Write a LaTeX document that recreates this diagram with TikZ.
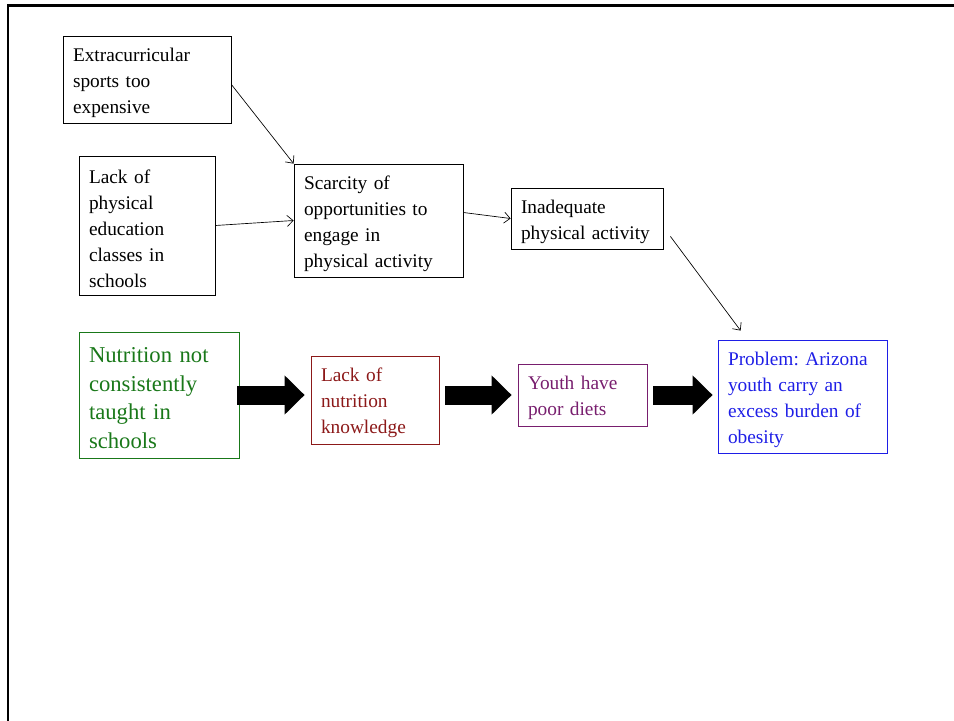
\documentclass[tikz,border=0pt]{standalone}
\usepackage{fontspec}
\setmainfont{Liberation Serif}
\usepackage{tikz}
\usetikzlibrary{calc}
\usetikzlibrary{arrows.meta}
\newlength\px
\setlength\px{0.75pt}
\frenchspacing
\definecolor{nutgreen}{RGB}{25,120,25}
\definecolor{knowred}{RGB}{140,25,25}
\definecolor{dietpurple}{RGB}{120,30,110}
\definecolor{probblue}{RGB}{30,30,230}
\tikzset{
  causebox/.style={draw, line width=0.6pt, align=left, inner xsep=10\px, inner ysep=2\px,
    font=\fontsize{14.5}{19.5}\selectfont, execute at end node={\par\vspace{-6\px}}},
  thinarrow/.style={line width=0.5pt, -{Straight Barb[length=4.5pt, width=8.25pt]}},
  blockarrow/.style={line width=19\px, -{Triangle[length=15pt, width=28.5pt]},
    shorten <=6\px, shorten >=6\px},
}

\begin{document}
\begin{tikzpicture}[x=0.75pt, y=-0.75pt]
\useasboundingbox (0,0) rectangle (954,721);
\draw[line width=2.5\px] (8,721)--(8,5.3)--(954,5.3);
% physical activity branch
\node[causebox, minimum height=87\px, text width=148\px] (sports) at (147,79.5)
  {Extracurricular\\sports too\\expensive};
\node[causebox, minimum height=139\px, text width=116\px] (physed) at (147,225.5)
  {Lack of\\physical\\education\\classes in\\schools};
\node[causebox, minimum height=113\px, text width=149\px] (scarcity) at (378.5,220.5)
  {Scarcity of\\opportunities to\\engage in\\physical activity};
\node[causebox, minimum height=61\px, text width=132\px] (inactive) at (587,218.5)
  {Inadequate\\physical activity};
% nutrition branch
\node[causebox, draw=nutgreen, text=nutgreen, font=\fontsize{17}{21.4}\selectfont,
  minimum height=126\px, text width=140\px] (nutrition) at (159,395)
  {Nutrition not\\consistently\\taught in\\schools};
\node[causebox, draw=knowred, text=knowred, minimum height=88\px, text width=108\px] (knowledge) at (375,400)
  {Lack of\\nutrition\\knowledge};
\node[causebox, draw=dietpurple, text=dietpurple, minimum height=62\px, text width=109\px] (diets) at (582.5,395)
  {Youth have\\poor diets};
\node[causebox, draw=probblue, text=probblue, minimum height=113\px, text width=149\px] (obesity) at (802.5,396.5)
  {Problem: Arizona\\youth carry an\\excess burden of\\obesity};
% connectors
\draw[thinarrow] ($(sports.east)+(0,5)$)--(scarcity.north west);
\draw[thinarrow] (physed.east)--(scarcity.west);
\draw[thinarrow] ($(scarcity.east)+(0,-8)$)--(inactive.west);
\draw[thinarrow] ($(inactive.south east)+(7,-13)$)--($(obesity.north west)+(23,-9)$);
\draw[blockarrow, shorten <=-2\px] (nutrition.east)--(nutrition.east -| knowledge.west);
\draw[blockarrow] (knowledge.east |- diets)--(diets.west);
\draw[blockarrow, shorten >=5\px] (diets.east)--(diets.east -| obesity.west);
\end{tikzpicture}
\end{document}
